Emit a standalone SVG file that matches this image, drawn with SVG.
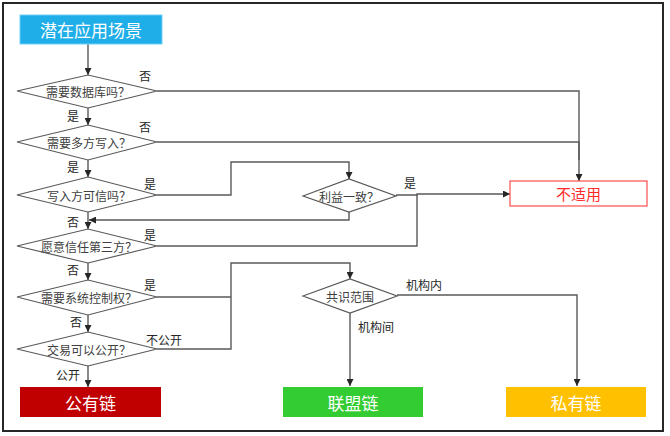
<svg xmlns="http://www.w3.org/2000/svg" width="670" height="436" viewBox="0 0 670 436">
<defs>
<marker id="ah" viewBox="0 0 10 10" refX="10" refY="5" markerWidth="7" markerHeight="7" orient="auto" markerUnits="userSpaceOnUse"><path d="M0,0 L10,5 L0,10 z" fill="#262626"/></marker>
<style>
text{font-family:"Microsoft YaHei","Noto Sans CJK SC",sans-serif;}
.d{fill:#fff;stroke:#595959;stroke-width:1.2;}
.dt{font-size:12px;fill:#404040;text-anchor:middle;dominant-baseline:central;}
.lb{font-size:12px;fill:#262626;}
.c{fill:none;stroke:#595959;stroke-width:1.4;}
.ca{fill:none;stroke:#595959;stroke-width:1.4;marker-end:url(#ah);}
.bt{font-size:17px;fill:#fff;text-anchor:middle;dominant-baseline:central;}
</style>
</defs>
<rect width="670" height="436" fill="#fff"/>
<rect x="3" y="3" width="660" height="428" fill="none" stroke="#262626" stroke-width="2"/>

<g id="connectors">
<path class="ca" d="M88,44 V75"/>
<path class="ca" d="M88,108 V125"/>
<path class="ca" d="M88,160 V177"/>
<path class="ca" d="M88,212 V229"/>
<path class="ca" d="M88,263 V280"/>
<path class="ca" d="M88,315 V332"/>
<path class="ca" d="M88,366 V387"/>
<path class="c" d="M157,91 H579 V160"/>
<path class="ca" d="M157,142 H579 V181"/>
<path class="ca" d="M157,195 H231 V162 H349 V179"/>
<path class="ca" d="M349,212 V220 H89"/>
<path class="ca" d="M396,195 H417 L417,194 H510"/>
<path class="c" d="M157,246 H417 V195"/>
<path class="c" d="M157,297 H231"/>
<path class="ca" d="M157,349 H231 V263 H350 V279"/>
<path class="ca" d="M397,295 H577 V386"/>
<path class="ca" d="M350,313 V386"/>
</g>

<g id="start">
<rect x="20" y="15" width="142" height="29" fill="#1FAEE8" stroke="#6FD0F5" stroke-width="1"/>
<text class="bt" x="91" y="29.5">潜在应用场景</text>
</g>

<g id="q1">
<polygon class="d" points="17,91 88,75 157,91 88,108"/>
<text class="dt" x="88" y="91">需要数据库吗？</text>
</g>
<g id="q2">
<polygon class="d" points="17,142 88,125 157,142 88,160"/>
<text class="dt" x="89" y="142">需要多方写入？</text>
</g>
<g id="q3">
<polygon class="d" points="17,195 88,177 157,195 88,212"/>
<text class="dt" x="89" y="195">写入方可信吗？</text>
</g>
<g id="q4">
<polygon class="d" points="17,246 88,229 157,246 88,263"/>
<text class="dt" x="89" y="246">愿意信任第三方？</text>
</g>
<g id="q5">
<polygon class="d" points="17,297 88,280 157,297 88,315"/>
<text class="dt" x="89" y="297">需要系统控制权？</text>
</g>
<g id="q6">
<polygon class="d" points="17,349 88,332 157,349 88,366"/>
<text class="dt" x="89" y="349">交易可以公开？</text>
</g>
<g id="q7">
<polygon class="d" points="303,196 349,179 396,196 349,212"/>
<text class="dt" x="349" y="196">利益一致？</text>
</g>
<g id="q8">
<polygon class="d" points="303,296 350,279 397,296 350,313"/>
<text class="dt" x="350" y="296">共识范围</text>
</g>

<g id="na">
<rect x="510" y="181" width="137" height="25" fill="#fff" stroke="#FF4D4D" stroke-width="1.2"/>
<text x="578.5" y="193.5" font-size="15" fill="#FF2B2B" text-anchor="middle" dominant-baseline="central">不适用</text>
</g>
<g id="public">
<rect x="20" y="387" width="141" height="30" fill="#C00000"/>
<text class="bt" x="90.5" y="402">公有链</text>
</g>
<g id="consortium">
<rect x="283" y="387" width="140" height="30" fill="#33CC33"/>
<text class="bt" x="353" y="402">联盟链</text>
</g>
<g id="private">
<rect x="506" y="387" width="140" height="30" fill="#FFC000"/>
<text class="bt" x="576" y="402">私有链</text>
</g>

<g id="labels">
<text class="lb" x="139" y="81">否</text>
<text class="lb" x="67" y="121">是</text>
<text class="lb" x="139" y="132">否</text>
<text class="lb" x="67" y="172">是</text>
<text class="lb" x="144" y="189">是</text>
<text class="lb" x="67" y="227">否</text>
<text class="lb" x="144" y="240">是</text>
<text class="lb" x="67" y="275">否</text>
<text class="lb" x="144" y="290">是</text>
<text class="lb" x="70" y="327">否</text>
<text class="lb" x="146" y="345">不公开</text>
<text class="lb" x="56" y="380">公开</text>
<text class="lb" x="404" y="188">是</text>
<text class="lb" x="406" y="290">机构内</text>
<text class="lb" x="358" y="332">机构间</text>
</g>
</svg>
